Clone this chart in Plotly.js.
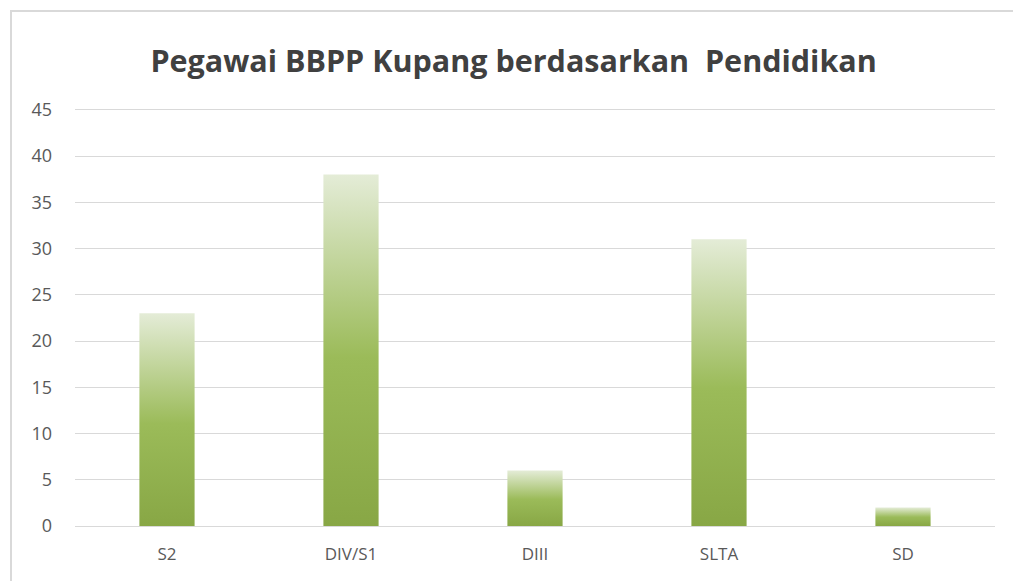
<!DOCTYPE html>
<html>
<head>
<meta charset="utf-8">
<script src="https://cdn.plot.ly/plotly-3.0.1.min.js"></script>
<style>
  html, body { margin: 0; padding: 0; background: #fff; }
  #wrap { position: relative; width: 1013px; height: 581px; overflow: hidden; }
  #frame { position: absolute; left: 10px; top: 10px; width: 1100px; height: 700px;
           border-top: 2px solid #d9d9d9; border-left: 2px solid #d9d9d9; pointer-events: none; }
  #chart { position: absolute; left: 0; top: 0; width: 1013px; height: 581px; }
</style>
</head>
<body>
<div id="wrap">
  <div id="chart"></div>
  <div id="frame"></div>
</div>
<script>
const categories = ["S2", "DIV/S1", "DIII", "SLTA", "SD"];
const values = [23, 38, 6, 31, 2];
const yTicks = [0, 5, 10, 15, 20, 25, 30, 35, 40, 45];

const trace = {
  type: "bar",
  x: categories,
  y: values,
  width: 0.3,
  marker: { color: "#9bbb59", line: { width: 0 } },
  hoverinfo: "x+y"
};

const layout = {
  width: 1013,
  height: 581,
  margin: { l: 75, r: 18, t: 108, b: 55 },
  paper_bgcolor: "#ffffff",
  plot_bgcolor: "#ffffff",
  showlegend: false,
  title: {
    text: "Pegawai BBPP Kupang berdasarkan  Pendidikan",
    font: { family: "Open Sans", size: 30.5, color: "#404040", weight: "bold" },
    x: 0.507, xanchor: "center",
    y: 0.895, yanchor: "middle"
  },
  xaxis: {
    type: "category",
    showgrid: false,
    showline: true,
    linecolor: "#d9d9d9",
    linewidth: 1,
    ticks: "",
    ticklabelstandoff: 13,
    tickfont: { family: "Open Sans", size: 17, color: "#595959" },
    fixedrange: true
  },
  yaxis: {
    range: [0, 45.2],
    tickvals: yTicks,
    ticktext: yTicks.map(String),
    showgrid: true,
    gridcolor: "#d9d9d9",
    gridwidth: 1,
    zeroline: false,
    showline: false,
    ticks: "",
    ticklabelstandoff: 22,
    tickfont: { family: "Open Sans", size: 18, color: "#595959" },
    fixedrange: true
  },
  bargap: 0.7
};

Plotly.newPlot("chart", [trace], layout, { displayModeBar: false, staticPlot: true }).then(function (gd) {
  const svg = gd.querySelector(".main-svg");
  let defs = svg.querySelector("defs");
  if (!defs) {
    defs = document.createElementNS("http://www.w3.org/2000/svg", "defs");
    svg.insertBefore(defs, svg.firstChild);
  }
  const ns = "http://www.w3.org/2000/svg";
  const grad = document.createElementNS(ns, "linearGradient");
  grad.setAttribute("id", "barGrad");
  grad.setAttribute("x1", "0"); grad.setAttribute("y1", "1");
  grad.setAttribute("x2", "0"); grad.setAttribute("y2", "0");
  [["0%", "#88a745"], ["48%", "#9bbb59"], ["100%", "#e4ecd7"]].forEach(function (s) {
    const st = document.createElementNS(ns, "stop");
    st.setAttribute("offset", s[0]);
    st.setAttribute("stop-color", s[1]);
    grad.appendChild(st);
  });
  defs.appendChild(grad);
  gd.querySelectorAll(".barlayer .point path").forEach(function (p) {
    p.style.fill = "url(#barGrad)";
  });
});
</script>
</body>
</html>
